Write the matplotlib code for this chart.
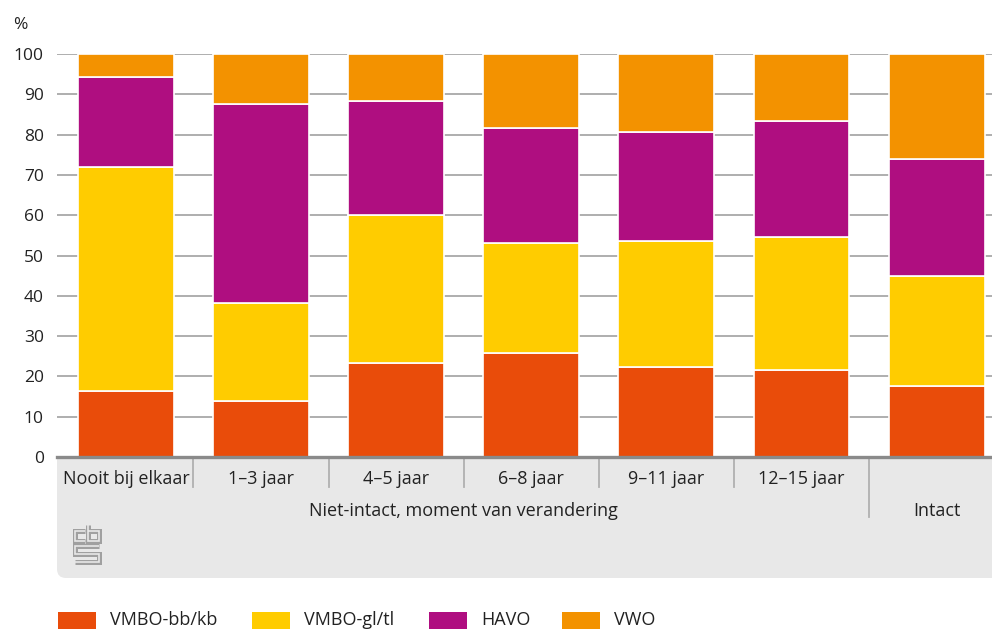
# Onderwijsniveau naar gezinssituatie - gestapelde staven (CBS-stijl)

import numpy as np
import matplotlib.pyplot as plt
from matplotlib.patches import FancyBboxPatch, Rectangle
from matplotlib.transforms import IdentityTransform

plt.rcParams['font.family'] = ['Open Sans', 'DejaVu Sans']

categorieen = ["Nooit bij elkaar", "1–3 jaar", "4–5 jaar", "6–8 jaar",
               "9–11 jaar", "12–15 jaar", ""]
groepen = ["Niet-intact, moment van verandering", "Intact"]
reeksen = ["VMBO-bb/kb", "VMBO-gl/tl", "HAVO", "VWO"]

vmbo_bb = [16.4, 13.9, 23.3, 25.8, 22.3, 21.6, 17.6]
vmbo_gl = [55.6, 24.3, 36.7, 27.3, 31.3, 33.0, 27.3]
havo = [22.3, 49.4, 28.3, 28.5, 27.0, 28.8, 29.0]
vwo = [5.7, 12.4, 11.7, 18.4, 19.4, 16.6, 26.1]

kleuren = ["#e94c0a", "#ffcc00", "#af0e80", "#f39200"]
tekst = "#222222"

W, H = 992, 629
fig = plt.figure(figsize=(W / 100, H / 100), dpi=100)

# assen: y=0 op pixel 457, y=100 op pixel 54
ax = fig.add_axes([57 / W, 1 - 457 / H, (W - 57) / W, 403 / H])


def ay(ypx):
    # pixelrij (van boven) -> asfractie
    return (457 - ypx) / 403


def dy(ypx):
    return H - ypx


x = np.arange(len(categorieen))
onder = np.zeros(len(x))
for waarden, kleur in zip([vmbo_bb, vmbo_gl, havo, vwo], kleuren):
    ax.bar(x, waarden, bottom=onder, width=0.71, color=kleur,
           edgecolor='white', linewidth=1.2, zorder=3, clip_on=False)
    onder += np.array(waarden)

ax.set_xlim(-0.51, 6.41)
ax.set_ylim(0, 100)
ax.set_yticks(range(0, 101, 10))
ax.set_xticks([])
ax.yaxis.grid(True, color='#a8a8a8', linewidth=1.3)
ax.set_axisbelow(True)
for s in ['top', 'right', 'left']:
    ax.spines[s].set_visible(False)
ax.spines['bottom'].set_color('#8a8a8a')
ax.spines['bottom'].set_linewidth(2.4)
ax.spines['bottom'].set_zorder(4)
ax.tick_params(axis='y', length=0, pad=9.5, labelsize=12.5, labelcolor=tekst)

fig.text(13 / W, 1 - 25 / H, "%", fontsize=12.5, color=tekst,
         ha='left', va='center')

# grijs paneel onder de as
paneel = FancyBboxPatch((57, dy(578)), 960, 578 - 459,
                        boxstyle='round,pad=0,rounding_size=9',
                        transform=IdentityTransform(), fc='#e8e8e8', ec='none',
                        zorder=0)
fig.add_artist(paneel)
fig.add_artist(Rectangle((57, dy(520)), 960, 520 - 459,
                         transform=IdentityTransform(), fc='#e8e8e8', ec='none',
                         zorder=0))

trans = ax.get_xaxis_transform()
for i in range(len(categorieen) - 1):
    eind = 517 if i == len(categorieen) - 2 else 487
    ax.plot([i + 0.5, i + 0.5], [ay(459), ay(eind)], transform=trans,
            color='#b0b0b0', linewidth=1.3, clip_on=False)

for i, lab in enumerate(categorieen):
    if lab:
        ax.text(i, ay(479), lab, transform=trans, ha='center', va='center',
                fontsize=13, color=tekst)
ax.text(2.5, ay(511), groepen[0], transform=trans, ha='center', va='center',
        fontsize=13, color=tekst)
ax.text(6, ay(511), groepen[1], transform=trans, ha='center', va='center',
        fontsize=13, color=tekst)

# cbs-logo (benadering)
logo = [
    [(85, 531), (75, 531), (75, 541), (85, 541)],
    [(88, 525), (88, 541), (99, 541), (99, 531), (88, 531)],
    [(99, 546), (75, 546), (75, 554), (99, 554), (99, 562), (75, 562)],
]
for lijn in logo:
    px = [p[0] for p in lijn]
    py = [dy(p[1]) for p in lijn]
    fig.add_artist(plt.Line2D(px, py, transform=IdentityTransform(),
                              color='#a0a0a0', linewidth=3.6,
                              solid_joinstyle='miter', solid_capstyle='butt'))
    fig.add_artist(plt.Line2D(px, py, transform=IdentityTransform(),
                              color='#e8e8e8', linewidth=1.2,
                              solid_joinstyle='miter', solid_capstyle='butt'))

# legenda
leg_x = [58, 252, 429, 562]
for naam, kleur, lx in zip(reeksen, kleuren, leg_x):
    fig.add_artist(Rectangle((lx, dy(630)), 38, 18,
                             transform=IdentityTransform(), fc=kleur, ec='none'))
    fig.text((lx + 52) / W, 1 - 620 / H, naam, fontsize=13, color=tekst,
             ha='left', va='center')

plt.savefig("out.png", dpi=100)
